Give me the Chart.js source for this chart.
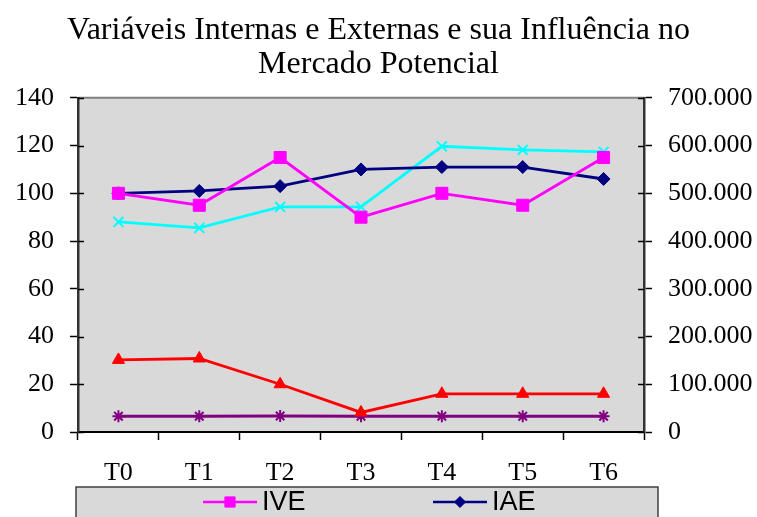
<!DOCTYPE html>
<html>
<head>
<meta charset="utf-8">
<script src="https://cdn.jsdelivr.net/npm/chart.js@4.4.1/dist/chart.umd.min.js"></script>
<style>
  body { margin: 0; background: #fff; overflow: hidden; }
</style>
</head>
<body>
<canvas id="chart" width="757" height="517"></canvas>
<script>
// categories
var periods = ['T0', 'T1', 'T2', 'T3', 'T4', 'T5', 'T6'];

// left axis (index)
var ive = [100, 95, 115, 90, 100, 95, 115];
var iae = [100, 101, 103, 110, 111, 111, 106];
var ivi = [88, 85.5, 94.3, 94.3, 119.7, 118.2, 117.4];

// right axis
var mercado = [151000, 154000, 100000, 41000, 80000, 80000, 80000];
var base = [33000, 33000, 33500, 33000, 33000, 33000, 33000];

var leftTicks = [0, 20, 40, 60, 80, 100, 120, 140];
var rightTicks = [0, 100000, 200000, 300000, 400000, 500000, 600000, 700000];

var serif = "'Liberation Serif', 'Times New Roman', serif";
var sans = "'Liberation Sans', Arial, sans-serif";

function ptBR(v) {
    return String(v).replace(/\B(?=(\d{3})+(?!\d))/g, '.');
}

// gray plot background + top border
var plotBg = {
    id: 'plotBg',
    beforeDraw: function (chart) {
        var a = chart.chartArea, ctx = chart.ctx;
        ctx.save();
        ctx.fillStyle = '#d9d9d9';
        ctx.fillRect(a.left, a.top, a.right - a.left, a.bottom - a.top);
        ctx.strokeStyle = '#808080';
        ctx.lineWidth = 2;
        ctx.beginPath();
        ctx.moveTo(a.left, a.top);
        ctx.lineTo(a.right, a.top);
        ctx.stroke();
        ctx.restore();
    },
    // inner half of the y tick marks (they cross the axis line)
    afterDatasetsDraw: function (chart) {
        var ctx = chart.ctx;
        ctx.save();
        ctx.strokeStyle = '#000';
        ctx.lineWidth = 1.5;
        ['y', 'y1'].forEach(function (id) {
            var s = chart.scales[id];
            var x = id === 'y' ? s.right : s.left;
            var dir = id === 'y' ? 1 : -1;
            s.ticks.forEach(function (t) {
                var py = Math.round(s.getPixelForValue(t.value)) + 0.5;
                ctx.beginPath();
                ctx.moveTo(x, py);
                ctx.lineTo(x + dir * 6, py);
                ctx.stroke();
            });
        });
        ctx.restore();
    }
};

// excel style boxed legend at the bottom, two columns
var boxLegend = {
    id: 'boxLegend',
    afterDraw: function (chart) {
        var a = chart.chartArea, ctx = chart.ctx;
        var left = a.left - 2, right = a.right + 14;
        var top = chart.scales.x.bottom;
        var rowH = 32;
        var rows = Math.ceil(chart.data.datasets.length / 2);
        ctx.save();
        ctx.fillStyle = '#d9d9d9';
        ctx.fillRect(left, top, right - left, rows * rowH + 10);
        ctx.strokeStyle = '#404040';
        ctx.lineWidth = 1.5;
        ctx.strokeRect(left, top, right - left, rows * rowH + 10);
        var cols = [left + 127, left + 357];
        chart.data.datasets.forEach(function (ds, i) {
            var x0 = cols[i % 2];
            var y = top + 15 + Math.floor(i / 2) * rowH;
            ctx.strokeStyle = ds.borderColor;
            ctx.fillStyle = ds.pointBackgroundColor;
            ctx.lineWidth = 2.5;
            ctx.beginPath();
            ctx.moveTo(x0, y);
            ctx.lineTo(x0 + 54, y);
            ctx.stroke();
            ctx.lineWidth = ds.pointBorderWidth;
            Chart.helpers.drawPoint(ctx, {
                pointStyle: ds.pointStyle,
                radius: ds.pointRadius * 0.85,
                rotation: 0,
                borderWidth: ds.pointBorderWidth
            }, x0 + 27, y);
            ctx.fillStyle = '#000';
            ctx.font = '27px ' + sans;
            ctx.textBaseline = 'middle';
            ctx.fillText(ds.label, x0 + 59, y + 1);
        });
        ctx.restore();
    }
};

function line(label, data, color, style, radius, axis, bw) {
    return {
        label: label,
        data: data,
        yAxisID: axis,
        borderColor: color,
        backgroundColor: color,
        pointBackgroundColor: color,
        pointBorderColor: color,
        pointStyle: style,
        pointRadius: radius,
        pointHoverRadius: radius,
        pointBorderWidth: bw,
        borderWidth: 2.8,
        tension: 0,
        fill: false
    };
}

new Chart(document.getElementById('chart').getContext('2d'), {
    type: 'line',
    data: {
        labels: periods,
        datasets: [
            line('IVE', ive, '#ff00ff', 'rect', 8.5, 'y', 1),
            line('IAE', iae, '#000080', 'rectRot', 6.5, 'y', 1),
            line('IVI', ivi, '#00ffff', 'crossRot', 7, 'y', 2),
            line('Mercado Potencial', mercado, '#ff0000', 'triangle', 7, 'y1', 1),
            line('IAI', base, '#800080', 'star', 6, 'y1', 2)
        ]
    },
    options: {
        responsive: false,
        animation: false,
        layout: { padding: { left: 0, right: 0, top: 0, bottom: 30 } },
        plugins: {
            legend: { display: false },
            tooltip: { enabled: false },
            title: {
                display: true,
                text: ['Variáveis Internas e Externas e sua Influência no', 'Mercado Potencial'],
                color: '#000',
                font: { family: serif, size: 32, weight: 'normal', lineHeight: 1.06 },
                padding: { top: 14, bottom: 16 }
            }
        },
        scales: {
            x: {
                offset: true,
                grid: { offset: true, drawOnChartArea: false, tickLength: 8, tickColor: '#000', tickWidth: 1.5 },
                border: { color: '#000', width: 2 },
                ticks: { color: '#000', padding: 18, font: { family: serif, size: 26 } },
                afterFit: function (s) { s.height = 55; }
            },
            y: {
                position: 'left',
                min: 0,
                max: 140,
                afterBuildTicks: function (s) { s.ticks = leftTicks.map(function (v) { return { value: v }; }); },
                grid: { drawOnChartArea: false, tickLength: 8, tickColor: '#000', tickWidth: 1.5 },
                border: { color: '#333', width: 2.5 },
                ticks: { color: '#000', padding: 16, font: { family: serif, size: 26 } },
                afterFit: function (s) { s.width = 78; }
            },
            y1: {
                position: 'right',
                min: 0,
                max: 700000,
                afterBuildTicks: function (s) { s.ticks = rightTicks.map(function (v) { return { value: v }; }); },
                grid: { drawOnChartArea: false, tickLength: 8, tickColor: '#000', tickWidth: 1.5 },
                border: { color: '#333', width: 2.5 },
                ticks: {
                    color: '#000', padding: 16, font: { family: serif, size: 26 },
                    callback: function (v) { return ptBR(v); }
                },
                afterFit: function (s) { s.width = 113; }
            }
        }
    },
    plugins: [plotBg, boxLegend]
});
</script>
</body>
</html>
